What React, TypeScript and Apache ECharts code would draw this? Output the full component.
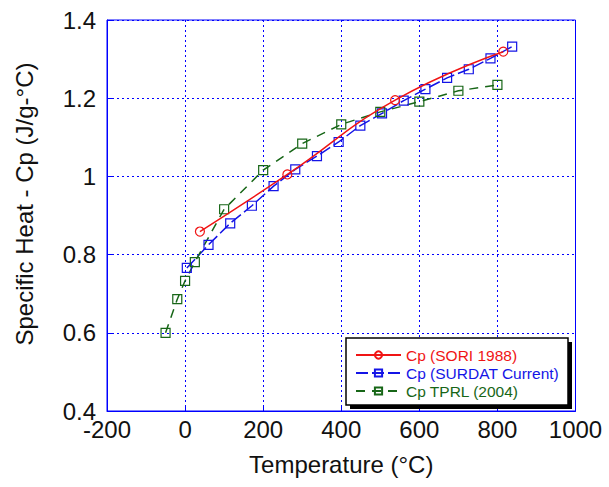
import React, { useEffect, useRef } from "react";
import * as echarts from "echarts";

const xTicks = [-200, 0, 200, 400, 600, 800, 1000];
const yTicks = [0.4, 0.6, 0.8, 1, 1.2, 1.4];

const soriT = [38, 262, 538, 815];
const soriCp = [0.859, 1.005, 1.195, 1.319];

const surdatT = [4.44, 60, 115.56, 171.11, 226.67, 282.22, 337.78, 393.33, 448.89, 504.44, 560, 615.56, 671.11, 726.67, 782.22, 837.78];
const surdatCp = [0.766, 0.825, 0.88, 0.925, 0.975, 1.018, 1.052, 1.088, 1.13, 1.161, 1.194, 1.223, 1.252, 1.274, 1.302, 1.332];

const tprlT = [-50, -20, 0, 25, 100, 200, 300, 400, 500, 600, 700, 800];
const tprlCp = [0.6, 0.686, 0.733, 0.781, 0.916, 1.016, 1.084, 1.133, 1.165, 1.191, 1.219, 1.234];

const seriesNames = ["Cp (SORI 1988)", "Cp (SURDAT Current)", "Cp TPRL (2004)"];

const RED = "#f01414";
const BLUE = "#1414e6";
const GREEN = "#176617";
const FRAME = "#0000ff";
const FONT = "Liberation Sans, Arial, sans-serif";

const zip = (a: number[], b: number[]) => a.map((v, i) => [v, b[i]]);

export default function App() {
  const ref = useRef<HTMLDivElement>(null);
  useEffect(() => {
    if (!ref.current) return;
    const chart = echarts.init(ref.current, undefined, { renderer: "svg" });
    const axisCommon = {
      axisLine: { show: true, onZero: false, lineStyle: { color: FRAME, width: 1 } },
      axisTick: { show: true, inside: true, length: 5, lineStyle: { color: FRAME } },
      splitLine: { show: true, lineStyle: { color: FRAME, type: [2, 3], width: 1 } },
    };
    chart.setOption({
      animation: false,
      backgroundColor: "#ffffff",
      grid: {
        left: 107,
        top: 20,
        width: 468.5,
        height: 391,
        show: true,
        borderColor: FRAME,
        borderWidth: 1,
        backgroundColor: "transparent",
      },
      xAxis: {
        type: "value",
        min: xTicks[0],
        max: xTicks[xTicks.length - 1],
        interval: 200,
        ...axisCommon,
        axisLabel: {
          fontFamily: FONT,
          fontSize: 24,
          color: "#111",
          margin: 6,
          formatter: (v: number) => String(v),
        },
        name: "Temperature (°C)",
        nameLocation: "middle",
        nameGap: 41,
        nameTextStyle: { fontFamily: FONT, fontSize: 24, color: "#111", verticalAlign: "top" },
      },
      yAxis: {
        type: "value",
        min: yTicks[0],
        max: yTicks[yTicks.length - 1],
        interval: 0.2,
        ...axisCommon,
        axisLabel: {
          fontFamily: FONT,
          fontSize: 24,
          color: "#111",
          margin: 11,
          formatter: (v: number) => String(Math.round(v * 10) / 10),
        },
      },
      legend: {
        orient: "vertical",
        left: 355,
        top: 347,
        padding: 0,
        itemWidth: 45,
        itemHeight: 9,
        itemGap: 2,
        z: 10,
        data: [
          { name: seriesNames[0], textStyle: { color: RED } },
          { name: seriesNames[1], textStyle: { color: BLUE } },
          { name: seriesNames[2], textStyle: { color: GREEN } },
        ],
        textStyle: { fontFamily: FONT, fontSize: 15.5, lineHeight: 16 },
      },
      graphic: {
        elements: [
          {
            type: "rect",
            z: 5,
            shape: { x: 350, y: 342, width: 222, height: 67 },
            style: { fill: "#000" },
          },
          {
            type: "rect",
            z: 6,
            shape: { x: 346, y: 338, width: 222, height: 67 },
            style: { fill: "#fff", stroke: "#000", lineWidth: 1.5 },
          },
          {
            type: "text",
            z: 6,
            x: 24,
            y: 204,
            rotation: Math.PI / 2,
            style: {
              text: "Specific Heat - Cp (J/g-°C)",
              fontFamily: FONT,
              fontSize: 24,
              fill: "#111",
              align: "center",
              verticalAlign: "middle",
            },
          },
        ],
      },
      series: [
        {
          name: seriesNames[0],
          type: "line",
          data: zip(soriT, soriCp),
          smooth: true,
          symbol: "circle",
          symbolSize: 9,
          lineStyle: { color: RED, width: 1.5 },
          itemStyle: { color: "transparent", borderColor: RED, borderWidth: 1.2 },
          z: 4,
        },
        {
          name: seriesNames[1],
          type: "line",
          data: zip(surdatT, surdatCp),
          symbol: "rect",
          symbolSize: 9,
          lineStyle: { color: BLUE, width: 1.5, type: [12, 4] },
          itemStyle: { color: "transparent", borderColor: BLUE, borderWidth: 1.2 },
          z: 3,
        },
        {
          name: seriesNames[2],
          type: "line",
          data: zip(tprlT, tprlCp),
          symbol: "rect",
          symbolSize: 9,
          lineStyle: { color: GREEN, width: 1.5, type: [9, 7] },
          itemStyle: { color: "transparent", borderColor: GREEN, borderWidth: 1.2 },
          z: 3,
        },
      ],
    });
    return () => chart.dispose();
  }, []);
  return (
    <div
      ref={ref}
      style={{ position: "fixed", left: 0, top: 0, width: 609, height: 487, background: "#fff" }}
    />
  );
}
